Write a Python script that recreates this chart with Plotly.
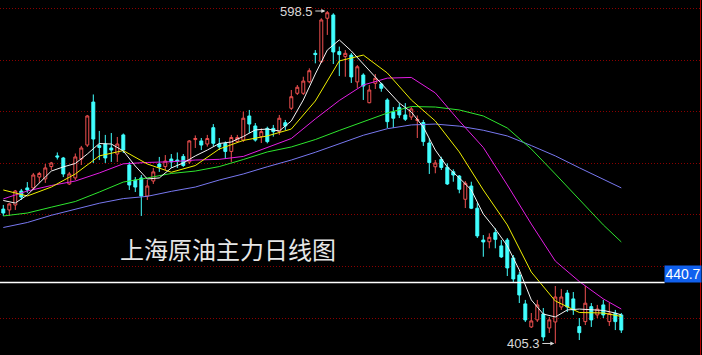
import plotly.graph_objects as go

# ---------------- data ----------------
idx = list(range(104))

open_ = [483.4, 482.9, 485.8, 493.9, 495.7, 495.7, 502.0, 500.9, 508.1, 514.3,
         513.1, 498.0, 501.5, 512.5, 520.6, 545.6, 520.3, 521.2, 518.9, 515.4,
         526.5, 509.0, 500.3, 501.5, 491.0, 499.7, 509.6, 508.1, 512.5, 511.9,
         514.0, 510.8, 523.8, 523.0, 521.2, 530.7, 521.2, 521.5, 516.9, 522.7,
         523.5, 537.5, 531.7, 525.5, 530.3, 530.3, 528.4, 533.6, 542.0, 550.7,
         550.7, 557.4, 573.9, 569.0, 594.3, 596.2, 574.9, 572.0, 572.9, 557.3,
         561.3, 545.2, 556.5, 556.1, 546.8, 540.0, 542.5, 538.1, 536.9, 534.9,
         533.7, 521.8, 508.0, 512.3, 507.7, 505.1, 502.6, 489.1, 496.8, 483.9,
         465.4, 464.4, 469.7, 462.0, 465.4, 455.0, 445.1, 428.3, 414.9, 419.0,
         422.4, 414.3, 417.8, 426.5, 434.6, 431.2, 415.1, 418.0, 426.7, 421.9,
         427.7, 418.0, 422.8, 421.9]
high = [485.8, 486.9, 494.5, 495.1, 499.1, 504.4, 505.0, 509.6, 510.8, 516.3,
        513.7, 505.0, 515.7, 520.1, 538.1, 550.0, 528.8, 526.5, 527.6, 525.3,
        527.3, 510.8, 502.0, 503.2, 500.3, 507.3, 513.7, 514.8, 515.4, 516.3,
        515.4, 523.5, 526.2, 524.7, 526.5, 532.8, 524.7, 522.7, 526.5, 526.5,
        540.0, 541.0, 533.4, 530.3, 531.3, 532.3, 538.1, 535.2, 552.6, 555.5,
        560.3, 565.2, 575.8, 594.3, 598.5, 597.2, 577.8, 575.8, 574.1, 567.1,
        562.3, 555.5, 561.9, 556.8, 547.8, 542.7, 544.9, 545.0, 542.7, 537.8,
        535.2, 524.5, 511.9, 513.8, 510.0, 506.5, 503.2, 499.7, 499.3, 486.9,
        468.3, 469.3, 472.2, 465.4, 466.6, 456.7, 446.8, 430.6, 423.0, 430.6,
        425.9, 420.7, 438.7, 437.0, 436.4, 435.2, 420.1, 438.7, 428.8, 427.7,
        430.6, 428.8, 424.8, 423.0]
low = [479.4, 479.4, 482.9, 488.7, 492.8, 494.5, 498.6, 498.6, 506.1, 512.2,
       502.0, 497.4, 500.3, 509.0, 519.5, 510.2, 511.9, 510.2, 510.8, 510.8,
       516.0, 494.5, 493.3, 479.4, 488.7, 498.0, 505.0, 506.1, 507.3, 507.3,
       507.9, 509.6, 518.9, 517.7, 519.7, 519.7, 517.7, 512.5, 510.8, 521.8,
       522.4, 527.6, 522.6, 521.8, 521.6, 525.5, 526.5, 529.3, 541.0, 549.7,
       549.7, 556.5, 568.1, 568.3, 584.6, 567.7, 560.7, 560.3, 556.7, 553.8,
       546.8, 544.9, 553.2, 551.6, 530.5, 530.5, 536.3, 534.6, 535.2, 524.7,
       520.1, 503.8, 504.2, 506.1, 497.4, 499.3, 492.6, 484.0, 483.4, 466.6,
       455.7, 460.6, 460.6, 455.0, 444.5, 440.5, 428.8, 417.8, 414.3, 417.8,
       406.7, 411.4, 405.3, 424.8, 423.6, 421.9, 407.3, 416.0, 414.9, 420.1,
       420.1, 415.5, 413.1, 411.4]
close = [481.1, 486.4, 493.9, 490.4, 494.5, 503.2, 504.1, 507.3, 510.2, 513.7,
         503.8, 503.8, 513.7, 518.9, 537.5, 524.1, 519.2, 513.1, 517.7, 521.2,
         517.7, 497.4, 496.2, 491.0, 496.8, 505.0, 507.9, 511.3, 510.8, 511.3,
         508.7, 523.0, 524.4, 520.6, 524.4, 521.6, 519.5, 516.9, 525.0, 525.0,
         536.2, 532.8, 523.5, 528.4, 522.6, 528.4, 536.2, 531.7, 548.7, 554.2,
         557.8, 563.8, 573.2, 593.3, 597.5, 574.7, 573.2, 573.9, 560.2, 566.1,
         554.9, 552.6, 559.4, 553.6, 534.2, 536.2, 538.1, 535.6, 541.6, 535.5,
         522.6, 510.4, 510.2, 507.6, 498.0, 503.2, 494.9, 498.4, 483.9, 467.8,
         464.3, 467.0, 465.8, 455.6, 449.2, 442.8, 433.5, 419.0, 418.4, 427.7,
         409.1, 419.0, 432.3, 432.3, 426.5, 424.8, 411.6, 428.7, 419.0, 425.3,
         421.9, 422.8, 418.0, 413.1]

# moving-average lines at the listed candle indices
ma5_idx = list(range(0, 104, 2)) + [103]
ma5 = [488.4, 486.9, 491.6, 498.3, 505.5, 507.9, 509.9, 515.4, 521.5, 521.2,
       517.2, 508.4, 500.9, 501.5, 507.3, 510.2, 514.3, 517.7, 521.5, 522.4,
       525.6, 529.4, 529.9, 528.8, 534.6, 546.8, 561.9, 575.8, 581.7, 575.3,
       567.7, 560.2, 552.0, 545.0, 539.8, 531.1, 517.7, 507.9, 501.5, 494.5,
       480.5, 471.8, 462.0, 448.0, 430.6, 422.4, 420.7, 424.8, 425.3, 424.8,
       424.5, 423.0, 421.9]
ma_idx = list(range(0, 104, 4)) + [103]
ma10 = [494.5, 491.0, 496.2, 503.8, 514.3, 517.4, 509.6, 504.8, 508.7, 518.3,
        523.3, 525.9, 529.9, 546.2, 569.5, 572.9, 562.5, 546.8, 534.6, 516.6,
        494.5, 474.2, 446.8, 430.0, 423.3, 423.0, 421.0]
ma20 = [489.3, 493.9, 497.1, 499.7, 504.4, 509.7, 510.5, 510.9, 511.9, 512.3,
        514.0, 519.2, 524.4, 535.8, 546.5, 555.5, 559.5, 559.9, 550.9, 534.6,
        519.2, 497.4, 474.7, 453.2, 441.3, 431.2, 425.3]
ma40 = [479.4, 481.1, 484.5, 487.8, 493.3, 499.1, 501.5, 504.1, 505.5, 508.1,
        512.2, 516.6, 519.5, 523.8, 529.1, 534.0, 539.2, 543.0, 542.7, 541.0,
        537.5, 530.5, 518.3, 503.8, 489.3, 474.2, 464.3]
ma60 = [472.7, 475.6, 479.8, 483.4, 486.8, 489.5, 490.8, 493.7, 496.2, 500.3,
        503.8, 508.0, 511.9, 516.4, 521.4, 526.3, 530.1, 532.3, 532.8, 531.6,
        529.2, 525.9, 520.3, 514.3, 507.4, 500.6, 495.7]

grid_vals = [420, 450, 480, 510, 540, 570, 600]
line_price = 440.7
title_text = "上海原油主力日线图"

# ---------------- styling ----------------
RED = "#F05050"
CYAN = "#40FFFF"
LABEL = "#D8D8D8"

fig = go.Figure()
fig.add_trace(go.Candlestick(
    x=idx, open=open_, high=high, low=low, close=close,
    increasing=dict(line=dict(color=RED, width=1), fillcolor="#000000"),
    decreasing=dict(line=dict(color=CYAN, width=1), fillcolor=CYAN),
    whiskerwidth=0, hoverinfo="skip",
))

ma_lines = [
    (ma_idx, ma60, "#7878F0"),
    (ma_idx, ma40, "#2EE62E"),
    (ma_idx, ma20, "#E41EE4"),
    (ma_idx, ma10, "#F0F000"),
    (ma5_idx, ma5, "#F4F4F4"),
]
for xs, ys, col in ma_lines:
    fig.add_trace(go.Scatter(x=xs, y=ys, mode="lines",
                             line=dict(color=col, width=1),
                             hoverinfo="skip"))

hi_i = high.index(max(high))
lo_i = low.index(min(low))

annotations = [
    dict(text=title_text, xref="paper", yref="paper", x=118 / 702, y=1 - 249 / 355,
         xanchor="left", yanchor="middle", showarrow=False,
         font=dict(family="Noto Sans CJK SC", size=24, color="#E6E6E6")),
    dict(text=f"{max(high):.1f}", x=hi_i, y=max(high), xref="x", yref="y",
         showarrow=True, ax=-12, ay=0, axref="pixel", ayref="pixel",
         xanchor="right", arrowhead=2, arrowsize=0.8, arrowwidth=1,
         arrowcolor=LABEL, standoff=2,
         font=dict(family="Liberation Sans", size=13, color=LABEL)),
    dict(text=f"{min(low):.1f}", x=lo_i, y=min(low), xref="x", yref="y",
         showarrow=True, ax=-13, ay=0, axref="pixel", ayref="pixel",
         xanchor="right", arrowhead=2, arrowsize=0.8, arrowwidth=1,
         arrowcolor=LABEL, standoff=1,
         font=dict(family="Liberation Sans", size=13, color=LABEL)),
    dict(text=f"{line_price:.1f}", xref="paper", yref="y", x=682.8 / 702, y=line_price,
         yshift=9, xanchor="center", yanchor="middle", showarrow=False,
         bgcolor="#1060EE", width=36, height=16, borderpad=0,
         font=dict(family="Liberation Sans", size=14, color="#FFFFFF")),
]

shapes = [
    dict(type="line", xref="paper", yref="y", x0=0, x1=664.7 / 702,
         y0=line_price, y1=line_price, line=dict(color="#FFFFFF", width=1.5)),
    dict(type="line", xref="paper", yref="paper", x0=700.5 / 702, x1=700.5 / 702,
         y0=0, y1=1, line=dict(color="#B00000", width=1)),
]

fig.update_layout(
    width=702, height=355, margin=dict(l=0, r=0, t=0, b=0),
    paper_bgcolor="#000000", plot_bgcolor="#000000", showlegend=False,
    xaxis=dict(range=[-0.55, 116.45], showgrid=False, zeroline=False,
               showticklabels=False, ticks="", rangeslider=dict(visible=False),
               showline=False),
    yaxis=dict(range=[398.6, 604.9], tickvals=grid_vals, showticklabels=False,
               ticks="", showgrid=True, gridcolor="#8A0000", gridwidth=1,
               griddash="1px,2px", zeroline=False, showline=False),
    annotations=annotations, shapes=shapes,
)

fig.write_html("out.html")
